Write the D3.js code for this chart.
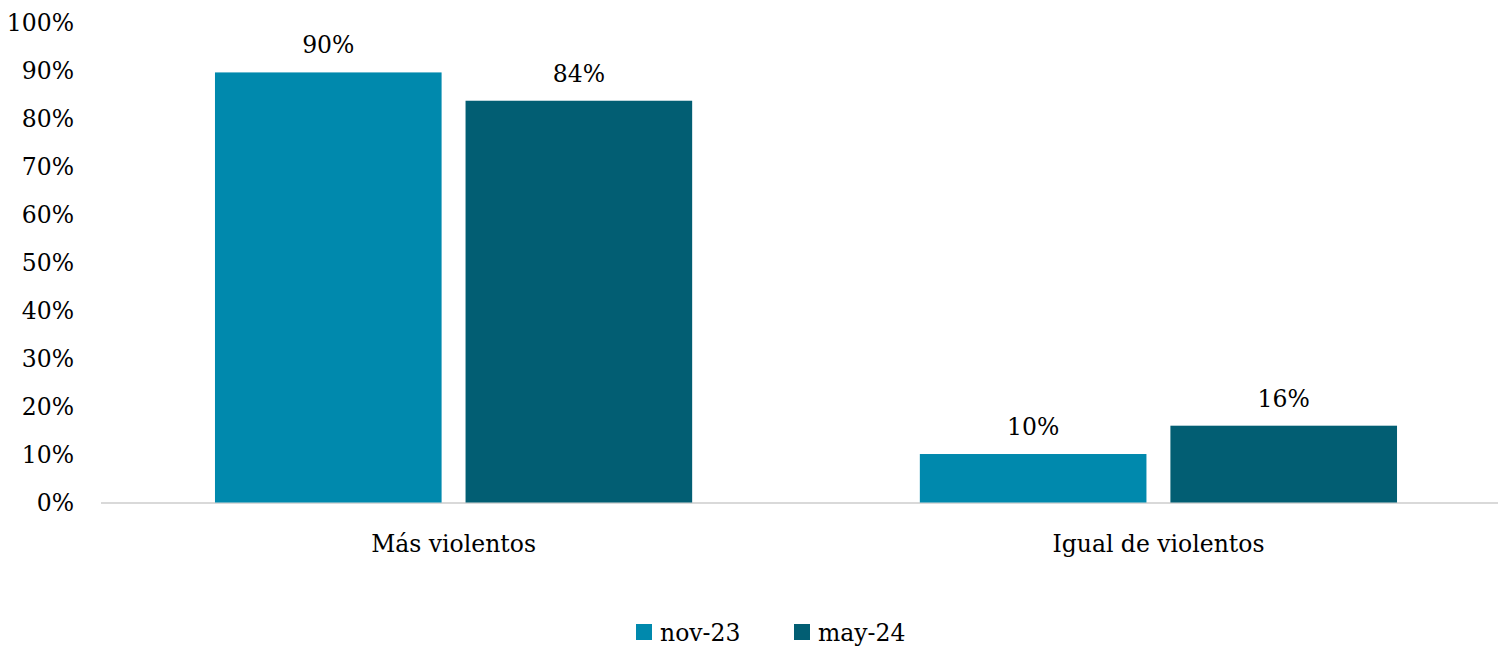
<!DOCTYPE html>
<html>
<head>
  <meta charset="utf-8">
  <title>Más violentos / Igual de violentos</title>
  <script src="https://cdn.jsdelivr.net/npm/d3@7/dist/d3.min.js"></script>
<style>
body {
  margin: 0;
  background: #fff;
}
svg text {
  font-family: "DejaVu Serif";
  fill: #000;
  font-size: 23.5px;
}
</style>
</head>
<body>
<script>
// data
var categories = ["Más violentos", "Igual de violentos"];
var seriesNames = ["nov-23", "may-24"];
var nov23 = [89.6, 10.1];
var may24 = [83.7, 16.0];
var yTicks = [0, 10, 20, 30, 40, 50, 60, 70, 80, 90, 100];
var colors = ["#0089ad", "#025e73"];

var width = 1498, height = 647;

var svg = d3.select("body").append("svg")
  .attr("width", width)
  .attr("height", height);

var y = d3.scaleLinear()
  .domain([0, 100])
  .range([502.5, 22.5]);

var x0 = d3.scaleBand()
  .domain(categories)
  .range([101, 1511])
  .paddingInner(0.323)
  .paddingOuter(0.1617);

var x1 = d3.scaleBand()
  .domain(seriesNames)
  .range([0, x0.bandwidth()])
  .paddingInner(0.0956);

var color = d3.scaleOrdinal().domain(seriesNames).range(colors);

// y axis (labels only)
var yAxis = d3.axisLeft(y)
  .tickValues(yTicks)
  .tickSize(0)
  .tickPadding(0)
  .tickFormat(function(d) { return d + "%"; });

var gy = svg.append("g")
  .attr("class", "axis y")
  .attr("transform", "translate(74,0)")
  .call(yAxis);
gy.select(".domain").remove();
gy.attr("font-family", null).attr("font-size", null);

// baseline
svg.append("line")
  .attr("x1", 101)
  .attr("x2", width)
  .attr("y1", y(0) + 0.5)
  .attr("y2", y(0) + 0.5)
  .attr("stroke", "#d9d9d9")
  .attr("stroke-width", 2);

var rows = categories.map(function(c, i) {
  return { cat: c, values: [
    { key: seriesNames[0], v: nov23[i] },
    { key: seriesNames[1], v: may24[i] }
  ] };
});

var groups = svg.selectAll("g.cat")
  .data(rows)
  .enter().append("g")
  .attr("class", "cat")
  .attr("transform", function(d) { return "translate(" + x0(d.cat) + ",0)"; });

groups.selectAll("rect")
  .data(function(d) { return d.values; })
  .enter().append("rect")
  .attr("x", function(d) { return x1(d.key); })
  .attr("y", function(d) { return y(d.v); })
  .attr("width", x1.bandwidth())
  .attr("height", function(d) { return y(0) - y(d.v); })
  .attr("fill", function(d) { return color(d.key); });

groups.selectAll("text.label")
  .data(function(d) { return d.values; })
  .enter().append("text")
  .attr("class", "label")
  .attr("x", function(d) { return x1(d.key) + x1.bandwidth() / 2; })
  .attr("y", function(d) { return y(d.v) - 19; })
  .attr("text-anchor", "middle")
  .text(function(d) { return Math.round(d.v) + "%"; });

// category labels
var xAxis = d3.axisBottom(x0).tickSize(0).tickPadding(0);
var gx = svg.append("g")
  .attr("class", "axis x")
  .call(xAxis);
gx.select(".domain").remove();
gx.attr("font-family", null).attr("font-size", null);
gx.selectAll("text")
  .attr("dy", null)
  .attr("y", 552);

// legend
var legend = svg.append("g").attr("class", "legend");
var legendX = [636, 794];
seriesNames.forEach(function(s, i) {
  legend.append("rect")
    .attr("x", legendX[i])
    .attr("y", 624)
    .attr("width", 16)
    .attr("height", 16)
    .attr("fill", color(s));
  legend.append("text")
    .attr("x", legendX[i] + 24)
    .attr("y", 641)
    .text(s);
});
</script>
</body>
</html>
